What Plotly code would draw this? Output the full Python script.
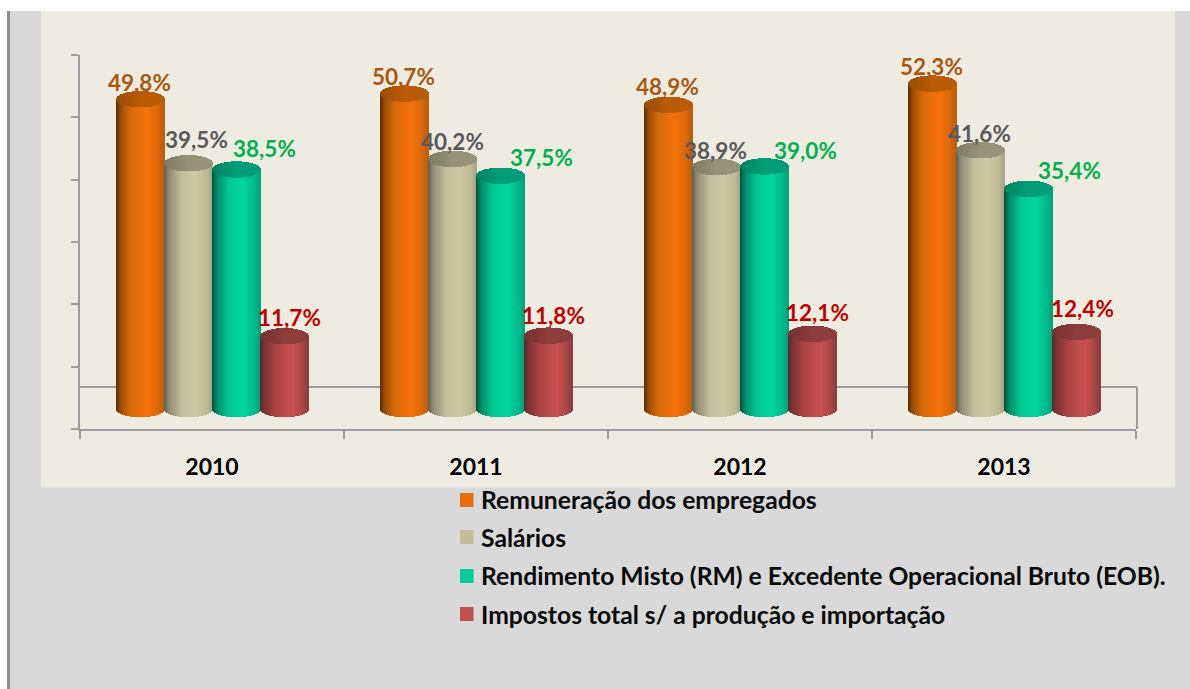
import numpy as np
import plotly.graph_objects as go

YEARS = ["2010", "2011", "2012", "2013"]
SERIES_NAMES = [
    "Remuneração dos empregados",
    "Salários",
    "Rendimento Misto (RM) e Excedente Operacional Bruto (EOB).",
    "Impostos total s/ a produção e importação",
]
REMUNERACAO = [49.8, 50.7, 48.9, 52.3]
SALARIOS = [39.5, 40.2, 38.9, 41.6]
RENDIMENTO = [38.5, 37.5, 39.0, 35.4]
IMPOSTOS = [11.7, 11.8, 12.1, 12.4]
SERIES = [REMUNERACAO, SALARIOS, RENDIMENTO, IMPOSTOS]

SWATCH = ["#E66E08", "#C4BD97", "#00CC99", "#C0504D"]
LABEL_COLORS = ["#A9570F", "#595959", "#00B050", "#C00000"]
TOP_COLORS = ["#BA5C06", "#97937A", "#009E78", "#8F3C3C"]
GRADIENTS = [
    [(0, "#5C2E05"), (.1, "#9A4E08"), (.3, "#D96A0A"), (.65, "#F4720A"), (.85, "#E06A0A"), (1, "#B85E10")],
    [(0, "#5E5C4C"), (.1, "#8F8B74"), (.35, "#C2BC9C"), (.65, "#CFC9A6"), (.9, "#BDB795"), (1, "#A8A386")],
    [(0, "#00513F"), (.1, "#008A68"), (.35, "#00C896"), (.65, "#00D69E"), (.9, "#00B88A"), (1, "#00A07F")],
    [(0, "#5C2A2A"), (.1, "#7F3535"), (.35, "#AE4646"), (.7, "#C85050"), (.9, "#A84545"), (1, "#8A3E3E")],
]
# label offsets from the top centre of each cylinder, in pixels (per series, per year)
LABEL_DX = [[-1, -1, -1, -1], [8, 0, -1, -1], [28, 41, 41, 41], [5, 5, 5, 6]]
LABEL_DY = [[17, 17, 18, 17], [24, 17, 17, 17], [21, 18, 16, 18], [19, 20, 21, 23]]
LEGEND_ROWS_PX = [500, 537, 576, 614]

PLOT_L, PLOT_R, PLOT_T, PLOT_B = 80, 1136, 55, 429
Y_RANGE = [-3.2, 56.9]
PX_PER_CAT = (PLOT_R - PLOT_L) / 4
PX_PER_VAL = (PLOT_B - PLOT_T) / (Y_RANGE[1] - Y_RANGE[0])
BAR_PX = 48
BAR_SHIFT_PX = 1
RY_PX = 8.2


def hex2rgb(h):
    return np.array([int(h[i:i + 2], 16) for i in (1, 3, 5)], float)


def grad(stops, u):
    xs = [s[0] for s in stops]
    cols = np.array([hex2rgb(s[1]) for s in stops])
    return "rgb(%d,%d,%d)" % tuple(np.interp(u, xs, cols[:, k]) for k in range(3))


def px(x):
    return (x - PLOT_L) / (PLOT_R - PLOT_L)


def py(y):
    return (PLOT_B - y) / (PLOT_B - PLOT_T)


def rect(x0, y0, x1, y1, color):
    return dict(type="rect", xref="paper", yref="paper", x0=px(x0), x1=px(x1), y0=py(y0), y1=py(y1),
                fillcolor=color, line_width=0, layer="below")


def line(x0, y0, x1, y1, color="#9C9C9C", w=2):
    return dict(type="line", xref="paper", yref="paper", x0=px(x0), x1=px(x1), y0=py(y0), y1=py(y1),
                line=dict(color=color, width=w), layer="below")


fig = go.Figure()
strip = 1 / PX_PER_CAT
half = BAR_PX / 2
rx = BAR_PX / PX_PER_CAT / 2
ry = RY_PX / PX_PER_VAL
offs = (np.arange(BAR_PX) + 0.5 - half) / half  # -1..1 across the cylinder

for s, vals in enumerate(SERIES):
    xs, ys, bases, cols, txs, tys, tbases, tcols = [], [], [], [], [], [], [], []
    for c, v in enumerate(vals):
        center = c + 0.5 + (s - 1.5) * BAR_PX / PX_PER_CAT + BAR_SHIFT_PX / PX_PER_CAT
        for u in offs:
            e = ry * np.sqrt(1 - u * u)
            t = (u + 1) / 2
            xs.append(center + u * rx)
            bases.append(-e)
            ys.append(v + e)
            cols.append(grad(GRADIENTS[s], t))
            txs.append(center + u * rx)
            tbases.append(v - e)
            tys.append(2 * e)
            k = 0.82 + 0.18 * min(t / 0.5, 1)
            rgb = hex2rgb(TOP_COLORS[s]) * k
            tcols.append("rgb(%d,%d,%d)" % tuple(rgb))
    fig.add_bar(x=xs, y=[a - b for a, b in zip(ys, bases)], base=bases, width=strip * 1.3,
                marker=dict(color=cols, line_width=0), showlegend=False, hoverinfo="skip")
    fig.add_bar(x=txs, y=tys, base=tbases, width=strip * 1.3,
                marker=dict(color=tcols, line_width=0), showlegend=False, hoverinfo="skip")

for s, name in enumerate(SERIES_NAMES):
    fig.add_scatter(x=[None], y=[None], mode="markers", name=name, legendgroup=name,
                    marker=dict(symbol="square", size=13, color="rgba(0,0,0,0)", line_width=0))

annotations = []
for s, vals in enumerate(SERIES):
    for c, v in enumerate(vals):
        annotations.append(dict(
            x=c + 0.5 + (s - 1.5) * BAR_PX / PX_PER_CAT, y=v, xref="x", yref="y",
            text=f"{v:.1f}%".replace(".", ","), showarrow=False,
            xshift=LABEL_DX[s][c], yshift=LABEL_DY[s][c], xanchor="center", yanchor="middle",
            font=dict(family="Lato", size=22.5, color=LABEL_COLORS[s], weight=700)))

shapes = [
    rect(0, 0, 1190, 11, "#FFFFFF"),
    rect(0, 0, 7, 689, "#FFFFFF"),
    rect(7, 11, 10, 689, "#8C8C8C"),
    rect(41, 11, 1175, 487.5, "#EEECE1"),
    line(PLOT_L, 387, 1137, 387),
    line(1137, 387, 1137, 429),
]
for color, row in zip(SWATCH, LEGEND_ROWS_PX):
    shapes.append(rect(460, row - 7, 473.5, row + 7, color))

fig.update_layout(
    width=1190, height=689, autosize=False,
    margin=dict(l=PLOT_L, r=1190 - PLOT_R, t=PLOT_T, b=689 - PLOT_B, pad=0),
    paper_bgcolor="#D9D9D9", plot_bgcolor="rgba(0,0,0,0)",
    barmode="overlay", bargap=0,
    shapes=shapes, annotations=annotations,
    legend=dict(x=px(441), y=py(477), xanchor="left", yanchor="top", tracegroupgap=3,
                bgcolor="rgba(0,0,0,0)", itemclick=False,
                font=dict(family="Lato", size=24.7, color="#0A0A0A", weight=700)),
    xaxis=dict(range=[0, 4], showgrid=False, zeroline=False, showline=True, linecolor="#9C9C9C", linewidth=2,
               tickmode="array", tickvals=[i + 0.5 for i in range(4)], ticktext=YEARS,
               ticks="outside", ticklen=0, ticklabelstandoff=16,
               tickfont=dict(family="Lato", size=23, color="#000000", weight=700),
               minor=dict(tickmode="array", tickvals=list(range(5)), ticks="outside", ticklen=8,
                          tickcolor="#9C9C9C", tickwidth=2, showgrid=False)),
    yaxis=dict(range=Y_RANGE, showgrid=False, zeroline=False, showline=True, linecolor="#9C9C9C", linewidth=2,
               tickmode="array",
               tickvals=[Y_RANGE[0] + k * (Y_RANGE[1] - Y_RANGE[0]) / 6 for k in range(7)],
               showticklabels=False, ticks="outside", ticklen=7, tickcolor="#9C9C9C", tickwidth=2),
)

fig.write_html("out.html", post_script="document.body.style.margin='0';",
               config=dict(displayModeBar=False))
